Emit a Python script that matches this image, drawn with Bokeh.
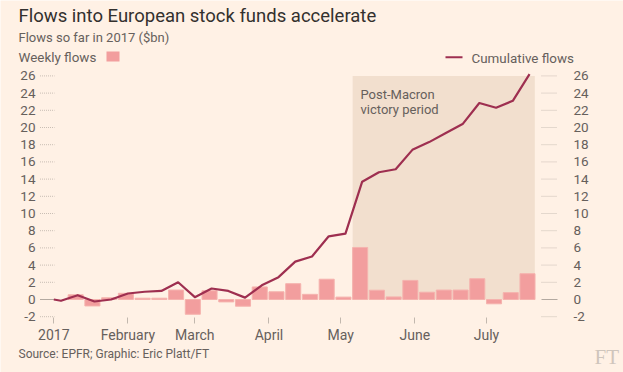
import pandas as pd
from bokeh.plotting import figure
from bokeh.models import Range1d, LinearAxis, FixedTicker, Label, BoxAnnotation
from bokeh.embed import file_html
from bokeh.resources import INLINE

# ---------------- data ----------------
week_dates = ["2017-01-11", "2017-01-18", "2017-01-25", "2017-02-01", "2017-02-08",
              "2017-02-15", "2017-02-22", "2017-03-01", "2017-03-08", "2017-03-15",
              "2017-03-22", "2017-03-29", "2017-04-05", "2017-04-12", "2017-04-19",
              "2017-04-26", "2017-05-03", "2017-05-10", "2017-05-17", "2017-05-24",
              "2017-05-31", "2017-06-07", "2017-06-14", "2017-06-21", "2017-06-28",
              "2017-07-05", "2017-07-12", "2017-07-19"]
weekly_flows = [0.55, -0.75, 0.2, 0.72, 0.15, 0.15, 1.1, -1.72, 1.02, -0.28,
                -0.78, 1.46, 0.9, 1.84, 0.6, 2.36, 0.28, 6.05, 1.08, 0.3,
                2.22, 0.85, 1.1, 1.1, 2.42, -0.5, 0.8, 3.0]

line_dates = ["2017-01-01", "2017-01-04"] + week_dates
cumulative_flows = [0.0, -0.15, 0.5, -0.23, 0.0, 0.7, 0.9, 1.0, 2.0, 0.27,
                    1.28, 1.0, 0.22, 1.65, 2.6, 4.4, 5.0, 7.35, 7.65, 13.7,
                    14.8, 15.15, 17.4, 18.3, 19.35, 20.4, 22.85, 22.3, 23.1, 26.2]

month_ticks = ["2017-01-01", "2017-02-01", "2017-03-01", "2017-04-01",
               "2017-05-01", "2017-06-01", "2017-07-01"]
month_labels = ["2017", "February", "March", "April", "May", "June", "July"]
y_ticks = [-2, 0, 2, 4, 6, 8, 10, 12, 14, 16, 18, 20, 22, 24, 26]
y_tick_labels = ["-2", "0", "2", "4", "6", "8", "10", "12", "14", "16", "18",
                 "20", "22", "24", "26"]

shade_dates = ["2017-05-06", "2017-07-21 05:00"]
shade_top = 26

title_text = "Flows into European stock funds accelerate"
subtitle_text = "Flows so far in 2017 ($bn)"
bar_legend_text = "Weekly flows"
line_legend_text = "Cumulative flows"
note_lines = ["Post-Macron", "victory period"]
source_text = "Source: EPFR; Graphic: Eric Platt/FT"

# ---------------- helpers ----------------
ORIGIN = pd.Timestamp("2017-01-01")


def day(d):
    return (pd.Timestamp(d) - ORIGIN) / pd.Timedelta(days=1)


# canvas pixel -> data helpers (the frame fills the whole canvas)
def dx(px):
    return (px - 53.3) / 2.3906


def dy(py):
    return (299.0 - py) / 8.6


W, H = 623, 372
BG = "#fff1e5"
TXT = "#66605c"
DARK = "#33302e"
BAR = "#f29e9e"
LINE = "#9e2f50"
SHADE = "#f2dfce"
STUB = "#c9beb4"
FONT = "Roboto"

p = figure(width=W, height=H, output_backend="svg", toolbar_location=None,
           x_range=Range1d(dx(0), dx(W)), y_range=Range1d(dy(H), dy(0)),
           min_border_left=0, min_border_right=0, min_border_top=0,
           min_border_bottom=0)
p.background_fill_color = BG
p.border_fill_color = BG
p.outline_line_color = None
p.xgrid.visible = False
p.ygrid.visible = False

# shaded period
p.quad(left=[day(shade_dates[0])], right=[day(shade_dates[1])], bottom=[0], top=[shade_top],
       fill_color=SHADE, line_color=None)

# tick stubs (dotted, zero solid)
nz = [t for t in y_ticks if t != 0]
for x0, x1 in ((dx(39.5), dx(54)), (dx(541), dx(557))):
    p.segment(x0=[x0] * len(nz), x1=[x1] * len(nz), y0=nz, y1=nz,
              line_color=STUB, line_width=1, line_dash="1 1")
    p.segment(x0=[x0], x1=[x1], y0=[0], y1=[0], line_color="#b3a9a0", line_width=1)

# weekly bars
p.vbar(x=[day(d) - 0.85 for d in week_dates], top=weekly_flows, bottom=0, width=6.3,
       fill_color=BAR, line_color="#f5b3ae", line_width=1)

# cumulative line
p.line(x=[day(d) for d in line_dates], y=cumulative_flows, line_color=LINE,
       line_width=2.2, line_join="round")

# axes (fixed inside the full-canvas frame)
xa = p.xaxis[0]
xa.fixed_location = dy(317)
xa.ticker = FixedTicker(ticks=[int(day(d)) for d in month_ticks])
xa.major_label_overrides = {int(day(d)): lab for d, lab in zip(month_ticks, month_labels)}
xa.axis_line_color = None
xa.major_tick_line_color = "#c2b8ae"
xa.major_tick_out = 6
xa.major_tick_in = 0
xa.minor_tick_line_color = None
xa.major_label_standoff = 3
xa.major_label_text_font = FONT
xa.major_label_text_font_size = "14px"
xa.major_label_text_color = TXT

y_overrides = {t: s for t, s in zip(y_ticks, y_tick_labels)}

ya = p.yaxis[0]
ya.fixed_location = dx(39)
ya.ticker = FixedTicker(ticks=y_ticks)
ya.major_label_overrides = y_overrides
ya.axis_line_color = None
ya.major_tick_line_color = None
ya.major_tick_out = 0
ya.major_tick_in = 0
ya.minor_tick_line_color = None
ya.major_label_standoff = 4
ya.major_label_text_font = FONT
ya.major_label_text_font_size = "13.5px"
ya.major_label_text_color = TXT

ra = LinearAxis(ticker=FixedTicker(ticks=y_ticks), fixed_location=dx(557))
ra.major_label_overrides = y_overrides
ra.axis_line_color = None
ra.major_tick_line_color = None
ra.major_tick_out = 0
ra.major_tick_in = 0
ra.minor_tick_line_color = None
ra.major_label_standoff = 16
ra.major_label_text_align = "right"
ra.major_label_text_font = FONT
ra.major_label_text_font_size = "13.5px"
ra.major_label_text_color = TXT
p.add_layout(ra, "right")


def lab(text, px, py, size, color=TXT, font=FONT):
    # py is the wanted alphabetic baseline; Bokeh puts the descent there, so lift it
    p.add_layout(Label(x=dx(px), y=dy(py - 0.26 * size), text=text, text_font=font,
                       text_font_size=f"{size}px", text_color=color,
                       text_baseline="alphabetic", text_align="left"))


lab(title_text, 18, 20, 18.5, DARK)
lab(subtitle_text, 18, 40, 13)
lab(bar_legend_text, 18, 60.7, 13.4)
lab(line_legend_text, 471, 61, 13.4)
lab(note_lines[0], 360, 97.7, 13)
lab(note_lines[1], 360, 112.7, 13)
lab(source_text, 18, 356.5, 12)
lab("FT", 594, 362, 21, "#cfc5bc", "Liberation Serif")

p.add_layout(BoxAnnotation(left=dx(106), right=dx(119), top=dy(51), bottom=dy(61),
                           fill_color=BAR, fill_alpha=1, line_color=None))
p.add_layout(BoxAnnotation(left=dx(445), right=dx(462), top=dy(55.8), bottom=dy(57.8),
                           fill_color=LINE, fill_alpha=1, line_color=None))

open("out.html", "w").write(file_html(p, INLINE))
